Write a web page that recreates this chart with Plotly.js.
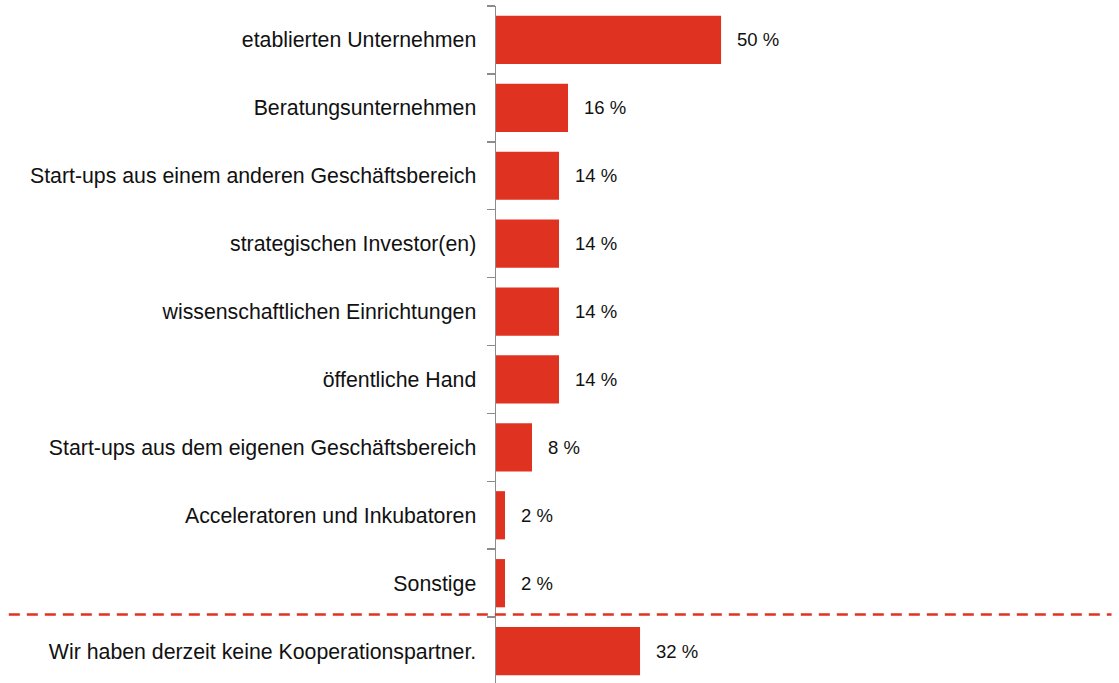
<!DOCTYPE html>
<html>
<head>
<meta charset="utf-8">
<script src="https://cdn.plot.ly/plotly-3.0.1.min.js"></script>
<style>html,body{margin:0;padding:0;background:#fff;}#chart{width:1119px;height:683px;}</style>
</head>
<body>
<div id="chart"></div>
<script>
const categories = [
  "etablierten Unternehmen",
  "Beratungsunternehmen",
  "Start-ups aus einem anderen Geschäftsbereich",
  "strategischen Investor(en)",
  "wissenschaftlichen Einrichtungen",
  "öffentliche Hand",
  "Start-ups aus dem eigenen Geschäftsbereich",
  "Acceleratoren und Inkubatoren",
  "Sonstige",
  "Wir haben derzeit keine Kooperationspartner."
];
const values = [50, 16, 14, 14, 14, 14, 8, 2, 2, 32];
const valueLabels = values.map(v => v + " %");

const FONT = '"Liberation Sans", Arial, sans-serif';
const RED = '#E03220';

const trace = {
  type: 'bar',
  orientation: 'h',
  x: values,
  y: categories,
  marker: {color: RED, line: {width: 0}},
  hoverinfo: 'none'
};

const annotations = values.map((v, i) => ({
  x: v, y: categories[i], xref: 'x', yref: 'y',
  text: valueLabels[i], showarrow: false,
  xanchor: 'left', yanchor: 'middle', xshift: 14,
  font: {family: FONT, size: 18.5, color: '#111'}
}));

const layout = {
  width: 1119, height: 683,
  margin: {l: 496, r: 0, t: 6, b: 0},
  paper_bgcolor: '#fff', plot_bgcolor: '#fff',
  showlegend: false,
  bargap: 0.29,
  xaxis: {
    range: [0, 138.4], visible: false, showgrid: false, zeroline: false, fixedrange: true
  },
  yaxis: {
    type: 'category',
    categoryorder: 'array', categoryarray: categories,
    range: [9.47, -0.5],
    showline: true, linecolor: '#8c8c8c', linewidth: 1.5,
    ticks: 'outside', ticklen: 8, tickwidth: 1.5, tickcolor: '#8c8c8c',
    tickson: 'boundaries',
    ticklabelstandoff: 14,
    showgrid: false, zeroline: false,
    tickfont: {family: FONT, size: 21.3, color: '#111'},
    fixedrange: true
  },
  shapes: [{
    type: 'line', xref: 'paper', yref: 'y',
    x0: -0.782, x1: 0.988, y0: 8.46, y1: 8.46,
    line: {color: RED, width: 2.5, dash: '11px,7px'}
  }],
  annotations: annotations
};

Plotly.newPlot('chart', [trace], layout, {staticPlot: true, displayModeBar: false});
</script>
</body>
</html>
